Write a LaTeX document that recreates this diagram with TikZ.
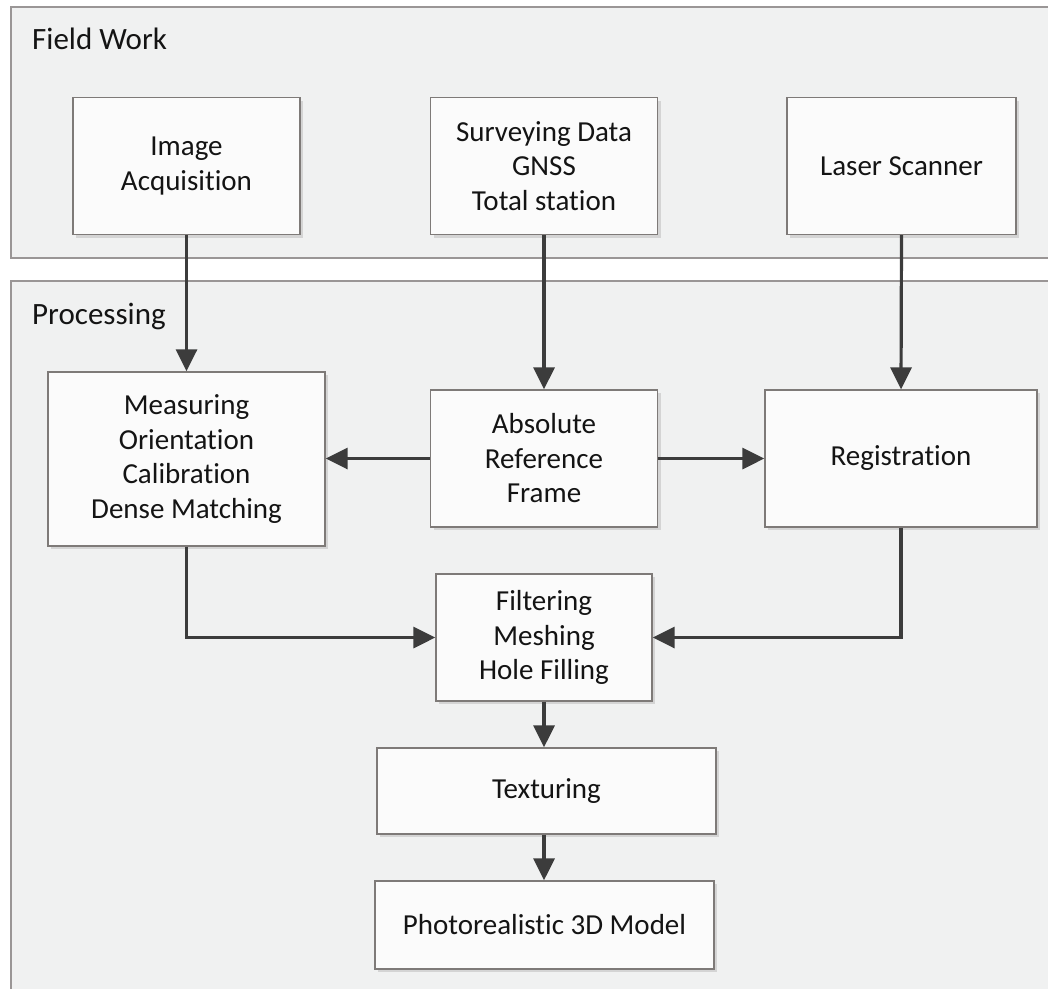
\documentclass[tikz,border=0pt]{standalone}
\usepackage{fontspec}
\setmainfont{Carlito}[Ligatures=NoCommon]
\usetikzlibrary{arrows.meta,calc}
\definecolor{panelfill}{HTML}{F0F1F1}
\definecolor{panelline}{HTML}{9A9696}
\definecolor{boxfill}{HTML}{FBFBFB}
\definecolor{boxline}{HTML}{7E7A78}
\definecolor{arrowcol}{HTML}{3C3C3C}
\definecolor{shadowcol}{HTML}{D4D4D4}
\tikzset{
  panel/.style={draw=panelline, fill=panelfill, line width=1.2pt},
  panellabel/.style={anchor=base west, font=\fontsize{31}{36}\selectfont, text=black!92, inner sep=0pt},
  procbox/.style={draw=boxline, fill=boxfill, line width=1.3pt, align=center,
    font=\fontsize{29}{34.5}\selectfont, text=black!92, inner sep=0pt},
  flow/.style={draw=arrowcol, line width=3.2pt, -{Triangle[length=22pt,width=21pt]}},
}
\newcommand{\pbox}[7]{% name, cx, cy, w, h, text
  \fill[shadowcol] (#2-#4/2+3,#3-#5/2+3) rectangle (#2+#4/2+3,#3+#5/2+3);
  \node[procbox, minimum width=#4pt, minimum height=#5pt] (#1) at (#2,#3) {#6};
}
\begin{document}
\begin{tikzpicture}[x=1pt,y=-1pt]
\useasboundingbox (0,0) rectangle (1048,988);
\clip (0,0) rectangle (1048,988);
\fill[white] (0,0) rectangle (1048,988);
% panels
\draw[panel] (11,7) rectangle (1070,258);
\draw[panel] (11,281) rectangle (1070,1010);
\node[panellabel] (fieldlbl) at (32,49) {Field Work};
\node[panellabel] (proclbl) at (32,324) {Processing};
% boxes
\pbox{img}{186.5}{166}{227}{137}{Image\\Acquisition}{}
\pbox{surv}{544}{166}{227}{137}{Surveying Data\\GNSS\\Total station}{}
\pbox{laser}{901.5}{166}{229}{137}{Laser Scanner}{}
\pbox{meas}{186.5}{459}{277}{174}{Measuring\\Orientation\\Calibration\\Dense Matching}{}
\pbox{abs}{544}{458.5}{227}{137}{Absolute\\Reference\\Frame}{}
\pbox{reg}{901}{458.5}{272}{137}{Registration}{}
\pbox{filt}{544}{637.5}{216}{127}{Filtering\\Meshing\\Hole Filling}{}
\pbox{tex}{546.5}{791}{339}{86}{Texturing}{}
\pbox{photo}{544.5}{925}{339}{88}{Photorealistic 3D Model}{}
% connectors
\coordinate (texout) at (tex.south -| filt.south);
\draw[flow] (img.south) -- (meas.north);
\draw[flow] (surv.south) -- (abs.north);
\draw[flow] (laser.south) -- (reg.north);
\draw[flow] (abs.west) -- (meas.east |- abs.west);
\draw[flow] (abs.east) -- (reg.west |- abs.east);
\draw[flow] (meas.south) |- (filt.west);
\draw[flow] (reg.south) |- (filt.east);
\draw[flow] (filt.south) -- (filt.south |- tex.north);
\draw[flow] (texout) -- (texout |- photo.north);
\end{tikzpicture}
\end{document}
